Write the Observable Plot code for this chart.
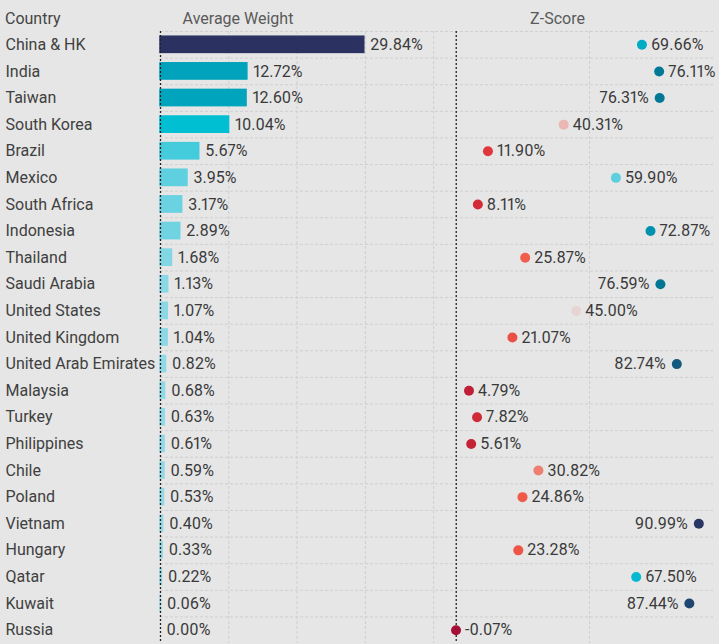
<!DOCTYPE html>
<html><head><meta charset="utf-8">
<script src="https://cdn.jsdelivr.net/npm/d3@7"></script>
<script src="https://cdn.jsdelivr.net/npm/@observablehq/plot@0.6"></script>
<style>
html,body{margin:0;padding:0;background:#e6e6e6;}
body{width:719px;height:644px;overflow:hidden;font-family:Roboto,"Liberation Sans",Arial,sans-serif;font-variant-numeric:proportional-nums;}
#hdr{position:relative;height:31px;font-size:16px;line-height:18px;}
#hdr span{position:absolute;top:9.5px;white-space:nowrap;}
#row{display:flex;}
#row svg{display:block;}
#row text{font-variant-numeric:proportional-nums;font-feature-settings:"pnum" 1;}
</style></head><body>
<div id="hdr"></div>
<div id="row"></div>
<script>
const countries = ["China & HK","India","Taiwan","South Korea","Brazil","Mexico","South Africa","Indonesia","Thailand","Saudi Arabia","United States","United Kingdom","United Arab Emirates","Malaysia","Turkey","Philippines","Chile","Poland","Vietnam","Hungary","Qatar","Kuwait","Russia"];
const weights = [29.84,12.72,12.60,10.04,5.67,3.95,3.17,2.89,1.68,1.13,1.07,1.04,0.82,0.68,0.63,0.61,0.59,0.53,0.40,0.33,0.22,0.06,0.00];
const zscores = [69.66,76.11,76.31,40.31,11.90,59.90,8.11,72.87,25.87,76.59,45.00,21.07,82.74,4.79,7.82,5.61,30.82,24.86,90.99,23.28,67.50,87.44,-0.07];
const headers = ["Country","Average Weight","Z-Score"];
const weightTicks = [10,20,30,40];
const zTicks = [50];

const data = countries.map((c,i)=>({country:c, weight:weights[i], z:zscores[i]}));

// header
const hdr = document.getElementById("hdr");
const hdrPos = [{left:"5px",tr:"none",color:"#444"},{left:"238px",tr:"translateX(-50%)",color:"#5a5a5a"},{left:"557.5px",tr:"translateX(-50%)",color:"#5a5a5a"}];
headers.forEach((h,i)=>{
  const s=document.createElement("span");
  s.textContent=h; s.style.left=hdrPos[i].left; s.style.transform=hdrPos[i].tr; s.style.color=hdrPos[i].color;
  hdr.appendChild(s);
});

const H = 613, MT = 0, MB = 1;
const step = (H-MT-MB)/countries.length;
const yOpts = {domain: countries, paddingInner: 0.39, paddingOuter: 0.195, align: 0.5, round: false, axis: null};
const gridStroke = "#cfcfcf";
const font = "Roboto,'Liberation Sans',Arial,sans-serif";
const pct = v => `${v.toFixed(2)}%`;

const left = Plot.plot({
  width: 440, height: H, marginLeft: 160, marginRight: 0, marginTop: MT, marginBottom: MB,
  style: {background: "transparent", fontSize: "16px", fontFamily: font},
  x: {domain: [0, 41], axis: null},
  y: yOpts,
  color: {type: "linear", domain: [0, 10, 13, 30], range: ["#9ddbe8", "#00bfd3", "#00a0b8", "#2b3160"]},
  marks: [
    Plot.gridX(weightTicks, {stroke: gridStroke, strokeOpacity: 1, strokeDasharray: "3,2"}),
    Plot.ruleY(countries, {y: d => d, dy: -step/2, stroke: gridStroke, strokeDasharray: "3,2"}),
    Plot.barX(data, {y: "country", x: "weight", fill: "weight", stroke: "weight", strokeWidth: 1.5}),
    Plot.ruleX([0], {stroke: "#222", strokeWidth: 1.3, strokeDasharray: "2,2"}),
    Plot.text(data, {y: "country", x: "weight", text: d => pct(d.weight), textAnchor: "start", dx: 6, fill: "#3a3a3a"}),
    Plot.axisY({tickSize: 0, tickPadding: 155, textAnchor: "start", label: null, color: "#404040", fontSize: 16})
  ]
});

const zThresh = 76.2;
const right = Plot.plot({
  width: 279, height: H, marginLeft: 0, marginRight: 6, marginTop: MT, marginBottom: MB,
  style: {background: "transparent", fontSize: "16px", fontFamily: font},
  x: {domain: [-5.9, 96.5], axis: null},
  y: yOpts,
  color: {type: "linear", domain: [0, 10, 25, 45, 60, 68, 76, 90],
          range: ["#a50f35", "#dc3239", "#f05a48", "#e8d4d2", "#5ccfdf", "#00b8d0", "#007a96", "#263a66"]},
  marks: [
    Plot.gridX(zTicks, {stroke: gridStroke, strokeOpacity: 1, strokeDasharray: "3,2"}),
    Plot.ruleY(countries, {y: d => d, dy: -step/2, stroke: gridStroke, strokeDasharray: "3,2"}),
    Plot.ruleX([0], {stroke: "#222", strokeWidth: 1.3, strokeDasharray: "2,2"}),
    Plot.dot(data, {y: "country", x: "z", fill: "z", r: 5}),
    Plot.text(data.filter(d => d.z <= zThresh), {y: "country", x: "z", text: d => pct(d.z), textAnchor: "start", dx: 9, fill: "#3a3a3a"}),
    Plot.text(data.filter(d => d.z > zThresh), {y: "country", x: "z", text: d => pct(d.z), textAnchor: "end", dx: -11, fill: "#3a3a3a"})
  ]
});

document.getElementById("row").append(left, right);
</script>
</body></html>
